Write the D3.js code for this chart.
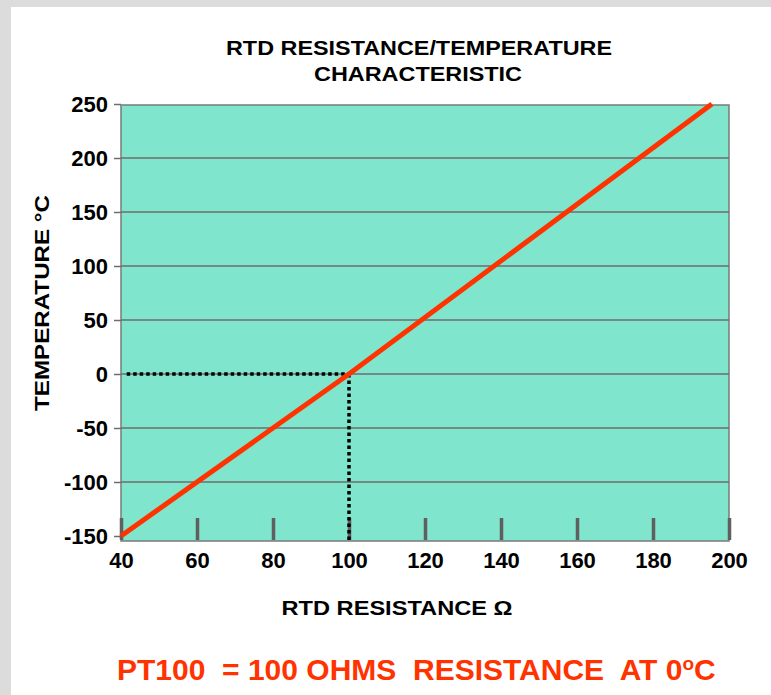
<!DOCTYPE html>
<html>
<head>
<meta charset="utf-8">
<script src="https://cdn.jsdelivr.net/npm/d3@7"></script>
<style>
  body { margin: 0; background: white; }
  text { font-family: "Liberation Sans", Arial, sans-serif; font-weight: bold; }
</style>
</head>
<body>
<script>
// RTD curve
let resistance = [40, 100, 195.5]
let temperature = [-150, 0, 250]
let xTicks = [40, 60, 80, 100, 120, 140, 160, 180, 200]
let yTicks = [-150, -100, -50, 0, 50, 100, 150, 200, 250]
let refPoint = [100, 0]

let width = 771, height = 695
let plot = { left: 121, right: 729, top: 104, bottom: 538 }

let svg = d3.select("body").append("svg")
            .attr("width", width)
            .attr("height", height)

svg.append("rect").attr("width", width).attr("height", height).attr("fill", "white")
// grey page frame
svg.append("rect").attr("x", 0).attr("y", 0).attr("width", width).attr("height", 7).attr("fill", "#dcdcdc")
svg.append("rect").attr("x", 0).attr("y", 0).attr("width", 11).attr("height", height).attr("fill", "#dcdcdc")

let x = d3.scaleLinear().domain([40, 200]).range([plot.left, plot.right])
let y = d3.scaleLinear().domain([-150, 250]).range([plot.bottom - 2, plot.top])

// plot background
svg.append("rect")
   .attr("x", plot.left)
   .attr("y", plot.top + 1)
   .attr("width", plot.right - plot.left)
   .attr("height", plot.bottom + 2 - plot.top)
   .attr("fill", "#7fe5cc")
   .attr("stroke", "#7a7a7a")
   .attr("stroke-width", 1.5)

// horizontal grid
svg.append("g")
   .selectAll("line")
   .data(yTicks.filter(d => d > -150 && d < 250))
   .join("line")
   .attr("x1", plot.left)
   .attr("x2", plot.right)
   .attr("y1", d => y(d))
   .attr("y2", d => y(d))
   .attr("stroke", "#6e6e6e")
   .attr("stroke-width", 1.5)

// y axis
let yAxis = svg.append("g")
               .attr("transform", `translate(${plot.left},0)`)
               .call(d3.axisLeft(y).tickValues(yTicks).tickFormat(d => String(d)).tickSize(7).tickPadding(6))
yAxis.select(".domain").remove()
yAxis.selectAll(".tick line").attr("stroke", "#6e6e6e").attr("stroke-width", 1.5)
yAxis.selectAll(".tick text")
     .attr("font-size", "22px")
     .attr("fill", "black")
     .style("font-family", "'Liberation Sans', Arial, sans-serif")
     .style("font-weight", "bold")

// x axis: ticks stand inside the plot
let xAxis = svg.append("g")
               .attr("transform", `translate(0,${plot.bottom + 2})`)
               .call(d3.axisBottom(x).tickValues(xTicks).tickFormat(d => String(d)).tickSize(-22).tickPadding(12))
xAxis.select(".domain").remove()
xAxis.selectAll(".tick line").attr("stroke", "#5f5f5f").attr("stroke-width", 3.5)
xAxis.selectAll(".tick text")
     .attr("font-size", "22px")
     .attr("fill", "black")
     .style("font-family", "'Liberation Sans', Arial, sans-serif")
     .style("font-weight", "bold")

// dotted reference lines at 100 ohm / 0 C
let dotted = d3.line().x(d => x(d[0])).y(d => y(d[1]))
svg.append("path")
   .attr("d", dotted([[41.5, refPoint[1]], refPoint]))
   .attr("fill", "none")
   .attr("stroke", "black")
   .attr("stroke-width", 3.5)
   .attr("stroke-dasharray", "3.5,3")
svg.append("path")
   .attr("d", `M${x(refPoint[0])},${y(refPoint[1])}V${plot.bottom + 2}`)
   .attr("fill", "none")
   .attr("stroke", "black")
   .attr("stroke-width", 3.5)
   .attr("stroke-dasharray", "3.5,3")

// RTD line
let line = d3.line().x((d, i) => x(resistance[i])).y(d => y(d))
svg.append("path")
   .attr("d", line(temperature))
   .attr("fill", "none")
   .attr("stroke", "#ff3300")
   .attr("stroke-width", 5)

// titles
svg.append("text")
   .attr("x", 419).attr("y", 55)
   .attr("text-anchor", "middle")
   .attr("font-size", "20px")
   .attr("textLength", 386).attr("lengthAdjust", "spacingAndGlyphs")
   .text("RTD RESISTANCE/TEMPERATURE")
svg.append("text")
   .attr("x", 418).attr("y", 81)
   .attr("text-anchor", "middle")
   .attr("font-size", "20px")
   .attr("textLength", 208).attr("lengthAdjust", "spacingAndGlyphs")
   .text("CHARACTERISTIC")

svg.append("text")
   .attr("transform", "translate(49,303) rotate(-90)")
   .attr("text-anchor", "middle")
   .attr("font-size", "20px")
   .attr("textLength", 216).attr("lengthAdjust", "spacingAndGlyphs")
   .text("TEMPERATURE °C")

svg.append("text")
   .attr("x", 397).attr("y", 615)
   .attr("text-anchor", "middle")
   .attr("font-size", "20px")
   .attr("textLength", 231).attr("lengthAdjust", "spacingAndGlyphs")
   .text("RTD RESISTANCE Ω")

let note = svg.append("text")
              .attr("x", 117).attr("y", 680)
              .attr("font-size", "30px")
              .attr("fill", "#ff3300")
              .style("white-space", "pre")
note.append("tspan").text("PT100  = 100 OHMS  RESISTANCE  AT 0")
note.append("tspan").attr("font-size", "19px").attr("dy", -10).text("o")
note.append("tspan").attr("dy", 10).text("C")
</script>
</body>
</html>
